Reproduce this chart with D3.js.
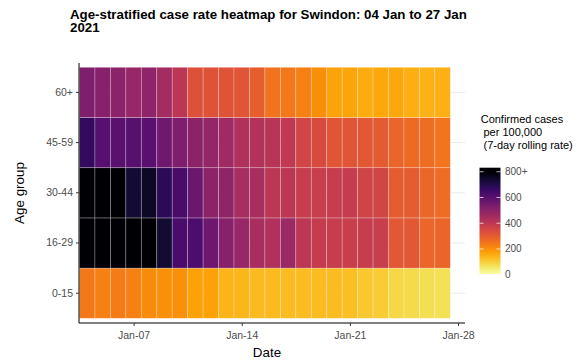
<!DOCTYPE html>
<html><head><meta charset="utf-8">
<script src="https://cdn.jsdelivr.net/npm/d3@7"></script>
<style>html,body{margin:0;padding:0;background:#fff;}svg{display:block;font-family:"Liberation Sans",Arial,sans-serif;}</style>
</head><body>
<svg id="chart" width="585" height="362"></svg>
<script>
const dates = ["2021-01-04","2021-01-05","2021-01-06","2021-01-07","2021-01-08","2021-01-09","2021-01-10","2021-01-11",
  "2021-01-12","2021-01-13","2021-01-14","2021-01-15","2021-01-16","2021-01-17","2021-01-18","2021-01-19",
  "2021-01-20","2021-01-21","2021-01-22","2021-01-23","2021-01-24","2021-01-25","2021-01-26","2021-01-27"];
const ageGroups = ["0-15","16-29","30-44","45-59","60+"];
const rate0_15  = [240,224,232,224,204,196,196,168,168,136,132,128,128,124,124,122,122,120,104,100,80,72,68,64];
const rate16_29 = [900,900,900,900,900,728,624,616,556,504,472,440,424,464,400,380,376,370,376,372,304,304,272,276];
const rate30_44 = [900,900,900,728,744,680,624,560,496,488,440,440,400,400,376,372,376,380,356,352,296,296,272,260];
const rate45_59 = [664,600,595,598,596,552,520,496,480,456,424,420,408,392,352,336,312,312,305,300,276,264,260,244];
const rate60p   = [520,504,496,472,490,448,400,320,318,315,310,290,250,240,225,200,165,160,150,155,155,145,140,142];
const rateSeries = [rate0_15, rate16_29, rate30_44, rate45_59, rate60p];
const xTickDates = ["2021-01-07","2021-01-14","2021-01-21","2021-01-28"];
const legendTicks = [0,200,400,600,800];
const legendTickLabels = ["0","200","400","600","800+"];

const svg = d3.select("#chart");
const parse = d3.utcParse("%Y-%m-%d");
const day = 864e5;
const panel = {l:79, r:465, t:63, b:323};

const x = d3.scaleUtc()
  .domain([new Date(parse(dates[0]).getTime() - day/2), new Date(parse("2021-01-28").getTime() + 0.45*day)])
  .range([79.5, 465]);
const y = d3.scaleBand().domain(ageGroups).range([318.3, 67.3]).padding(0);
const color = v => d3.interpolateInferno(1 - Math.min(v, 800)/800);

const cells = [];
ageGroups.forEach((g,i) => dates.forEach((d,j) => cells.push({g, d: parse(d), v: rateSeries[i][j]})));

// grid
const grid = svg.append("g");
ageGroups.forEach(g => grid.append("line")
  .attr("x1", panel.l).attr("x2", panel.r)
  .attr("y1", y(g)+y.bandwidth()/2).attr("y2", y(g)+y.bandwidth()/2)
  .attr("stroke","#ebebeb").attr("stroke-width",1));

// tiles
svg.append("g").selectAll("rect").data(cells).join("rect")
  .attr("x", d => x(new Date(d.d.getTime() - day/2)))
  .attr("width", d => x(new Date(d.d.getTime() + day/2)) - x(new Date(d.d.getTime() - day/2)))
  .attr("y", d => y(d.g))
  .attr("height", y.bandwidth())
  .attr("fill", d => color(d.v))
  .attr("stroke", "#ffffff").attr("stroke-opacity", 0.35).attr("stroke-width", 0.7);

// axes
const xAxis = d3.axisBottom(x).tickValues(xTickDates.map(parse)).tickFormat(d3.utcFormat("%b-%d")).tickSize(3).tickSizeOuter(0);
const gx = svg.append("g").attr("transform", `translate(0,${panel.b})`).call(xAxis);
gx.select(".domain").attr("d", `M${panel.l},0H${panel.r}`).attr("stroke","#000");
gx.selectAll(".tick line").attr("stroke","#333");
gx.selectAll("text").attr("font-size","10.5px").attr("fill","#4d4d4d").attr("dy","0.95em").attr("font-family","Liberation Sans, Arial, sans-serif");

const yAxis = d3.axisLeft(y).tickSize(3).tickSizeOuter(0);
const gy = svg.append("g").attr("transform", `translate(${panel.l},0)`).call(yAxis);
gy.select(".domain").attr("d", `M0,${panel.t}V${panel.b}`).attr("stroke","#000");
gy.selectAll(".tick line").attr("stroke","#333");
gy.selectAll("text").attr("font-size","10.5px").attr("fill","#4d4d4d").attr("font-family","Liberation Sans, Arial, sans-serif");
svg.selectAll(".domain").attr("stroke-width",1);

svg.append("text").attr("x", (panel.l+panel.r)/2 - 5).attr("y", 357).attr("text-anchor","middle")
  .attr("font-size","13.4px").attr("fill","#000").text("Date");
svg.append("text").attr("transform","translate(24,193) rotate(-90)").attr("text-anchor","middle")
  .attr("font-size","13.4px").attr("fill","#000").text("Age group");

// title
const title = svg.append("text").attr("x",70).attr("y",18.5).attr("font-size","13.3px").attr("font-weight","bold").attr("fill","#000");
title.append("tspan").attr("x",70).text("Age-stratified case rate heatmap for Swindon: 04 Jan to 27 Jan");
title.append("tspan").attr("x",70).attr("dy",13.5).text("2021");

// legend
const lg = svg.append("g");
const lt = lg.append("text").attr("font-size","11px").attr("fill","#000");
lt.append("tspan").attr("x",480.7).attr("y",122.7).text("Confirmed cases");
lt.append("tspan").attr("x",483.5).attr("y",135.5).text("per 100,000");
lt.append("tspan").attr("x",483.5).attr("y",148.5).text("(7-day rolling rate)");

const ly = d3.scaleLinear().domain([0, 826]).range([274, 167.7]);
const defs = svg.append("defs");
const grad = defs.append("linearGradient").attr("id","lgrad").attr("x1",0).attr("x2",0).attr("y1",1).attr("y2",0);
d3.range(0, 1.0001, 0.05).forEach(t => grad.append("stop").attr("offset", t).attr("stop-color", color(t*826)));
const bx = 479.5, bw = 21;
lg.append("rect").attr("x",bx).attr("y",ly(826)).attr("width",bw).attr("height",ly(0)-ly(826)).attr("fill","url(#lgrad)");
legendTicks.forEach((v,i) => {
  const yy = ly(v) + 0.7;
  lg.append("line").attr("x1",bx).attr("x2",bx+4).attr("y1",yy).attr("y2",yy).attr("stroke","#fff").attr("stroke-opacity",0.7);
  lg.append("line").attr("x1",bx+bw-4).attr("x2",bx+bw).attr("y1",yy).attr("y2",yy).attr("stroke","#fff").attr("stroke-opacity",0.7);
  lg.append("text").attr("x",505).attr("y",yy).attr("dy","0.35em").attr("font-size","10px").attr("fill","#4d4d4d").text(legendTickLabels[i]);
});
</script>
</body></html>
